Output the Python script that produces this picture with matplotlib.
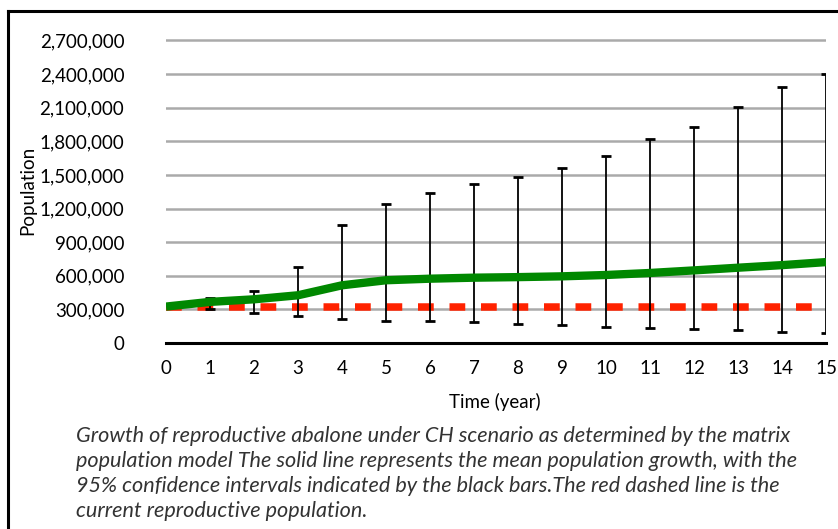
#Mean reproductive abalone population under the CH scenario, with 95% CI bars and the current population line

import numpy as np
import matplotlib.pyplot as plt
from matplotlib.lines import Line2D

#region DATA

years = [0, 1, 2, 3, 4, 5, 6, 7, 8, 9, 10, 11, 12, 13, 14, 15]
meanPop = [325000, 367000, 390000, 426000, 515000, 560000, 574000, 583000,
           588000, 595000, 607000, 625000, 648000, 672000, 695000, 722000]
upperCI = [np.nan, 402000, 464000, 678000, 1051000, 1243000, 1335000, 1423000,
           1486000, 1566000, 1670000, 1823000, 1927000, 2105000, 2283000, 2401000]
lowerCI = [np.nan, 302000, 266000, 242000, 216000, 198000, 198000, 186000,
           169000, 160000, 142000, 133000, 124000, 115000, 98000, 86000]
currentPop = 325000
yTicks = [0, 300000, 600000, 900000, 1200000, 1500000, 1800000, 2100000, 2400000, 2700000]
caption = ("Growth of reproductive abalone under CH scenario as determined by the matrix\n"
           "population model The solid line represents the mean population growth, with the\n"
           "95% confidence intervals indicated by the black bars.The red dashed line is the\n"
           "current reproductive population.")

#endregion

#region PLOT

plt.rcParams['font.family'] = ['Lato', 'DejaVu Sans']

fig = plt.figure(figsize=(8.38, 5.29), dpi=100)
W, H = 838, 529
ax = fig.add_axes([166 / W, 1 - 343 / H, (826 - 166) / W, (343 - 36) / H])

#grid lines
for t in yTicks[1:]:
    ax.axhline(t, color="#aaaaaa", linewidth=1.8, zorder=1)

#confidence interval bars
yrs = np.array(years, dtype=float)
up = np.array(upperCI, dtype=float)
lo = np.array(lowerCI, dtype=float)
ok = ~np.isnan(up)
ax.vlines(yrs[ok], lo[ok], up[ok], color="black", linewidth=1.3, zorder=3)
ax.hlines(up[ok], yrs[ok] - 0.11, yrs[ok] + 0.11, color="black", linewidth=2, zorder=3)
ax.hlines(lo[ok], yrs[ok] - 0.11, yrs[ok] + 0.11, color="black", linewidth=2, zorder=3)

#current population and mean growth
ax.plot([years[0], years[-1]], [currentPop, currentPop], color="#ff2200", linewidth=5.4,
        dashes=(2.1, 2.1), zorder=2)
ax.plot(years, meanPop, color="#008800", linewidth=6, solid_capstyle="butt", zorder=4)

ax.set_xlim(0, 15)
ax.set_ylim(0, 2.74e6)
ax.set_xticks(years)
ax.set_xticklabels([str(y) for y in years], fontsize=13.5)
ax.set_yticks(yTicks)
ax.set_yticklabels(["{:,}".format(t) for t in yTicks], fontsize=13.5)
ax.tick_params(length=0)
ax.tick_params(axis="y", pad=30)
ax.tick_params(axis="x", pad=12)
for side in ["top", "right", "left"]:
    ax.spines[side].set_visible(False)
ax.spines["bottom"].set_linewidth(2.2)
ax.spines["bottom"].set_color("black")

fig.text(28 / W, 1 - 190 / H, "Population", rotation=90, ha="center", va="center", fontsize=13.5)
fig.text(495 / W, 1 - 402 / H, "Time (year)", ha="center", va="center", fontsize=13.5)
fig.text(76 / W, 1 - 426 / H, caption, ha="left", va="top", fontsize=15.6, style="italic",
         color="#333333", linespacing=1.31)

#figure frame (top and left only)
fig.add_artist(Line2D([8 / W, 1], [1 - 11 / H, 1 - 11 / H], color="black", linewidth=2.2,
                      transform=fig.transFigure))
fig.add_artist(Line2D([8 / W, 8 / W], [1 - 11 / H, 0], color="black", linewidth=2.2,
                      transform=fig.transFigure))

fig.savefig("out.png", dpi=100)

#endregion
